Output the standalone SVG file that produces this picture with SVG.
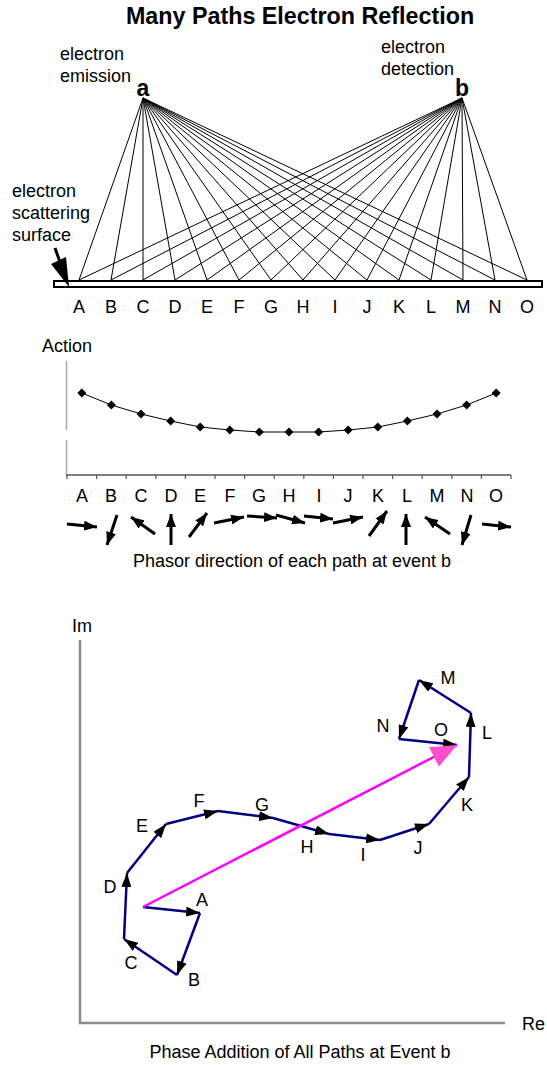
<svg xmlns="http://www.w3.org/2000/svg" width="547" height="1065" viewBox="0 0 547 1065">
<style>
text{font-family:"Liberation Sans",Arial,sans-serif;fill:#000}
.t18{font-size:18px}
.lbl{font-size:18px;text-anchor:middle}
.ray{stroke:#000;stroke-width:1;fill:none}
.ph{stroke:#000;stroke-width:3;marker-end:url(#ah)}
.ch{stroke:#000080;stroke-width:2.5;fill:none;marker-end:url(#ahc)}
.ax{stroke:#8c8c8c;stroke-width:2.5;fill:none}
</style>
<defs>
<marker id="ah" viewBox="0 0 13 10" refX="13" refY="5" markerWidth="13" markerHeight="10" markerUnits="userSpaceOnUse" orient="auto"><path d="M0,0L13,5L0,10z" fill="#000"/></marker>
<marker id="ahc" viewBox="0 0 14 10" refX="14" refY="5" markerWidth="14" markerHeight="10" markerUnits="userSpaceOnUse" orient="auto"><path d="M0,0L14,5L0,10z" fill="#000"/></marker>
<marker id="ahp" viewBox="0 0 26 22" refX="26" refY="11" markerWidth="26" markerHeight="22" markerUnits="userSpaceOnUse" orient="auto"><path d="M0,0L26,11L0,22z" fill="#ff4fd0"/></marker>
<path id="dm" d="M0,-4.5L4.5,0L0,4.5L-4.5,0z" fill="#000"/>
</defs>

<text x="300" y="24" text-anchor="middle" font-size="23.3" font-weight="bold">Many Paths Electron Reflection</text>

<g id="node-a"><text class="t18" x="60" y="60">electron</text><text class="t18" x="60" y="82">emission</text><text x="143" y="96" font-size="23" font-weight="bold" text-anchor="middle">a</text></g>
<g id="node-b"><text class="t18" x="381" y="53">electron</text><text class="t18" x="381" y="75">detection</text><text x="462" y="96" font-size="23" font-weight="bold" text-anchor="middle">b</text></g>

<g id="connectors-rays" class="ray">
<path d="M143,98L79,280M143,98L111,280M143,98L143,280M143,98L175,280M143,98L207,280M143,98L239,280M143,98L271,280M143,98L303,280M143,98L335,280M143,98L367,280M143,98L399,280M143,98L431,280M143,98L463,280M143,98L495,280M143,98L527,280"/>
<path d="M462,98L79,280M462,98L111,280M462,98L143,280M462,98L175,280M462,98L207,280M462,98L239,280M462,98L271,280M462,98L303,280M462,98L335,280M462,98L367,280M462,98L399,280M462,98L431,280M462,98L463,280M462,98L495,280M462,98L527,280"/>
</g>

<g id="surface">
<rect x="54" y="281" width="488" height="6" fill="#fff" stroke="#000" stroke-width="2"/>
<text class="t18" x="12" y="197">electron</text><text class="t18" x="12" y="219">scattering</text><text class="t18" x="12" y="241">surface</text>
<line x1="55" y1="248" x2="60" y2="262" stroke="#000" stroke-width="3"/>
<path d="M51,264L66,257L69,287z" fill="#000"/>
</g>
<g id="surface-labels" class="lbl">
<text x="79" y="313">A</text><text x="111" y="313">B</text><text x="143" y="313">C</text><text x="175" y="313">D</text><text x="207" y="313">E</text><text x="239" y="313">F</text><text x="271" y="313">G</text><text x="303" y="313">H</text><text x="335" y="313">I</text><text x="367" y="313">J</text><text x="399" y="313">K</text><text x="431" y="313">L</text><text x="463" y="313">M</text><text x="495" y="313">N</text><text x="527" y="313">O</text>
</g>

<g id="action-chart">
<text class="t18" x="42" y="352">Action</text>
<path d="M66.5,361V430M66.5,440V475" stroke="#aaa" stroke-width="1.5"/>
<path d="M66,475H511" stroke="#555" stroke-width="1.5"/>
<path d="M67,475v4M96.6,475v4M126.2,475v4M155.8,475v4M185.4,475v4M215,475v4M244.6,475v4M274.2,475v4M303.8,475v4M333.4,475v4M363,475v4M392.6,475v4M422.2,475v4M451.8,475v4M481.4,475v4M511,475v4" stroke="#555" stroke-width="1.2"/>
<polyline points="81.8,393 111.4,405 141,414 170.6,421 200.2,427 229.8,430 259.4,432 289,432 318.6,432 348.2,430 377.8,427 407.4,421 437,414 466.6,405 496.2,393" fill="none" stroke="#000" stroke-width="1"/>
<use href="#dm" x="81.8" y="393"/><use href="#dm" x="111.4" y="405"/><use href="#dm" x="141" y="414"/><use href="#dm" x="170.6" y="421"/><use href="#dm" x="200.2" y="427"/><use href="#dm" x="229.8" y="430"/><use href="#dm" x="259.4" y="432"/><use href="#dm" x="289" y="432"/><use href="#dm" x="318.6" y="432"/><use href="#dm" x="348.2" y="430"/><use href="#dm" x="377.8" y="427"/><use href="#dm" x="407.4" y="421"/><use href="#dm" x="437" y="414"/><use href="#dm" x="466.6" y="405"/><use href="#dm" x="496.2" y="393"/>
<g class="lbl">
<text x="82" y="502">A</text><text x="111" y="502">B</text><text x="141" y="502">C</text><text x="171" y="502">D</text><text x="200" y="502">E</text><text x="230" y="502">F</text><text x="259" y="502">G</text><text x="289" y="502">H</text><text x="319" y="502">I</text><text x="348" y="502">J</text><text x="378" y="502">K</text><text x="407" y="502">L</text><text x="437" y="502">M</text><text x="467" y="502">N</text><text x="496" y="502">O</text>
</g>
</g>

<g id="phasors">
<line class="ph" x1="67" y1="524" x2="97" y2="527"/>
<line class="ph" x1="117" y1="515" x2="107" y2="545"/>
<line class="ph" x1="155" y1="534" x2="131" y2="517"/>
<line class="ph" x1="171" y1="545" x2="171" y2="514"/>
<line class="ph" x1="189" y1="537" x2="207" y2="513"/>
<line class="ph" x1="214" y1="523" x2="244" y2="517"/>
<line class="ph" x1="247" y1="516" x2="277" y2="518"/>
<line class="ph" x1="276" y1="515" x2="305" y2="523"/>
<line class="ph" x1="304" y1="516" x2="333" y2="519"/>
<line class="ph" x1="333" y1="523" x2="363" y2="517"/>
<line class="ph" x1="369" y1="536" x2="387" y2="511"/>
<line class="ph" x1="406" y1="545" x2="406" y2="514"/>
<line class="ph" x1="450" y1="534" x2="425" y2="517"/>
<line class="ph" x1="471" y1="515" x2="462" y2="545"/>
<line class="ph" x1="482" y1="524" x2="511" y2="527"/>
<text class="lbl" x="292" y="567">Phasor direction of each path at event b</text>
</g>

<g id="phase-plot">
<text class="t18" x="72" y="632">Im</text>
<path class="ax" d="M80,640V1023H505"/>
<text class="t18" x="522" y="1030">Re</text>
<text class="lbl" x="300" y="1058" font-size="18.4">Phase Addition of All Paths at Event b</text>
</g>

<g id="connectors-chain">
<line class="ch" x1="143" y1="907" x2="200" y2="913"/>
<line class="ch" x1="200" y1="913" x2="177" y2="975"/>
<line class="ch" x1="177" y1="975" x2="124" y2="939"/>
<line class="ch" x1="124" y1="939" x2="127" y2="873"/>
<line class="ch" x1="127" y1="873" x2="166" y2="824"/>
<line class="ch" x1="166" y1="824" x2="218" y2="811"/>
<line class="ch" x1="218" y1="811" x2="273" y2="818"/>
<line class="ch" x1="273" y1="818" x2="329" y2="834"/>
<line class="ch" x1="329" y1="834" x2="380" y2="840"/>
<line class="ch" x1="380" y1="840" x2="429" y2="824"/>
<line class="ch" x1="429" y1="824" x2="469" y2="777"/>
<line class="ch" x1="469" y1="777" x2="471" y2="713"/>
<line class="ch" x1="471" y1="713" x2="419" y2="680"/>
<line class="ch" x1="419" y1="680" x2="399" y2="739"/>
<line class="ch" x1="399" y1="739" x2="457" y2="745"/>
<line x1="143" y1="907" x2="457" y2="745" stroke="#ff00ff" stroke-width="2.5" marker-end="url(#ahp)"/>
</g>
<g id="chain-labels" class="lbl">
<text x="202" y="906">A</text><text x="194" y="986">B</text><text x="131" y="969">C</text><text x="110" y="893">D</text><text x="142" y="832">E</text><text x="199" y="807">F</text><text x="262" y="811">G</text><text x="307" y="853">H</text><text x="363" y="861">I</text><text x="418" y="854">J</text><text x="467" y="811">K</text><text x="487" y="739">L</text><text x="448" y="684">M</text><text x="383" y="732">N</text><text x="441" y="736">O</text>
</g>
</svg>
